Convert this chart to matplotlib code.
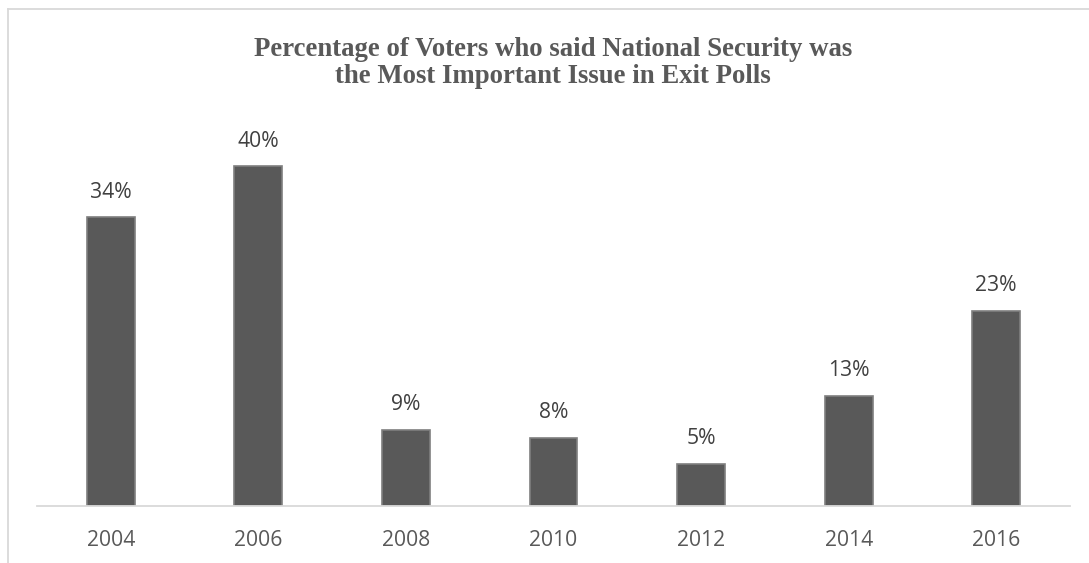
import matplotlib.pyplot as plt
from matplotlib.lines import Line2D

# --- data ---
years = ["2004", "2006", "2008", "2010", "2012", "2014", "2016"]
pct = [34, 40, 9, 8, 5, 13, 23]
title_lines = ["Percentage of Voters who said National Security was",
               "the Most Important Issue in Exit Polls"]

W, H = 1089, 563
fig = plt.figure(figsize=(W / 100, H / 100), dpi=100)

# plot area in pixels: x 37..1070, baseline at y=506, 8.5 px per percent
ax = fig.add_axes([37 / W, (H - 506) / H, (1070 - 37) / W, 382.5 / H])
x = range(len(years))
bars = ax.bar(x, pct, width=0.325, color="#595959", edgecolor="#7f7f7f", linewidth=1.2)
ax.set_xlim(-0.5, len(years) - 0.5)
ax.set_ylim(0, 45)

for b, v in zip(bars, pct):
    ax.annotate(f"{v}%", (b.get_x() + b.get_width() / 2, v), xytext=(0, 25 * 0.72),
                textcoords="offset points", ha="center", va="center",
                fontsize=15.2, color="#404040", family="Open Sans")

ax.set_xticks(list(x))
ax.set_xticklabels(years, fontsize=15.2, color="#595959", family="Open Sans")
ax.tick_params(axis="x", length=0, pad=17)
ax.set_yticks([])
for s in ["top", "right", "left"]:
    ax.spines[s].set_visible(False)
ax.spines["bottom"].set_color("#d9d9d9")
ax.spines["bottom"].set_linewidth(1.3)

# title (two centred lines, baselines at 56 and 83 px)
for line, yb in zip(title_lines, [56, 83]):
    fig.text(553 / W, 1 - yb / H, line, ha="center", va="baseline", fontsize=19.3,
             fontweight="bold", family="Liberation Serif", color="#595959")

# chart frame (cropped on right/bottom)
fig.add_artist(Line2D([8 / W, 1], [1 - 9 / H, 1 - 9 / H], color="#d9d9d9", lw=1.3,
                      transform=fig.transFigure))
fig.add_artist(Line2D([8 / W, 8 / W], [0, 1 - 9 / H], color="#d9d9d9", lw=1.3,
                      transform=fig.transFigure))

fig.savefig("out.png", dpi=100)
